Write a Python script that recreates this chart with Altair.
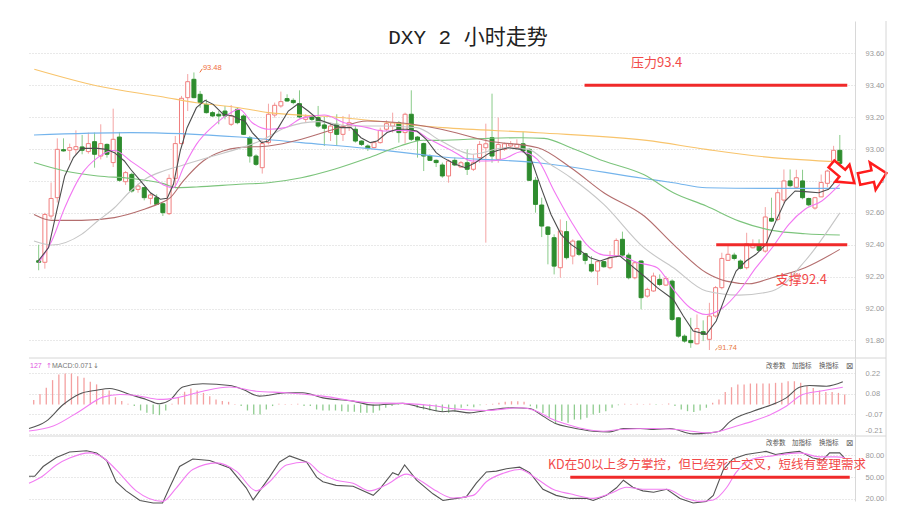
import altair as alt
import pandas as pd

# ---------------- candles (2-hour bars) ----------------
opens = [
92.300, 92.290, 92.580, 92.695, 92.996, 92.992, 92.996, 93.013, 92.984, 93.046,
92.956, 93.029, 92.915, 93.075, 92.795, 92.841, 92.747, 92.758, 92.691, 92.695,
92.657, 92.595, 92.816, 93.034, 93.322, 93.437, 93.343, 93.280, 93.228, 93.218,
93.238, 93.155, 93.249, 93.207, 93.071, 92.956, 92.883, 93.040, 93.213, 93.270,
93.316, 93.305, 93.284, 93.186, 93.201, 93.197, 93.151, 93.103, 93.155, 93.092,
93.144, 93.124, 93.050, 93.019, 93.009, 93.040, 93.124, 93.144, 93.165, 93.103,
93.218, 93.075, 93.034, 92.956, 92.929, 92.900, 92.831, 92.929, 92.887, 92.914,
92.873, 92.946, 93.008, 93.071, 92.935, 92.998, 93.019, 93.008, 93.033, 92.998,
92.804, 92.649, 92.511, 92.444, 92.256, 92.482, 92.329, 92.423, 92.344, 92.277,
92.235, 92.294, 92.256, 92.329, 92.434, 92.335, 92.193, 92.298, 92.078, 92.110,
92.183, 92.147, 92.172, 91.942, 91.827, 91.800, 91.779, 91.855, 91.807, 91.953,
92.131, 92.302, 92.335, 92.298, 92.256, 92.381, 92.396, 92.360, 92.565, 92.559,
92.680, 92.800, 92.760, 92.800, 92.690, 92.630, 92.700, 92.785, 92.870, 92.992]
highs = [
92.400, 92.600, 92.790, 93.067, 93.067, 93.034, 93.117, 93.088, 93.103, 93.103,
93.155, 93.035, 93.253, 93.107, 92.862, 92.852, 92.783, 92.762, 92.726, 92.716,
92.664, 92.841, 93.082, 93.333, 93.470, 93.480, 93.364, 93.312, 93.238, 93.238,
93.270, 93.276, 93.259, 93.218, 93.082, 92.967, 93.050, 93.284, 93.291, 93.360,
93.343, 93.318, 93.368, 93.218, 93.207, 93.270, 93.201, 93.165, 93.218, 93.207,
93.218, 93.144, 93.055, 93.029, 93.050, 93.134, 93.180, 93.228, 93.176, 93.228,
93.368, 93.082, 93.040, 92.967, 92.935, 92.915, 92.935, 92.946, 92.925, 92.998,
92.967, 93.050, 93.159, 93.347, 93.197, 93.040, 93.050, 93.061, 93.109, 93.004,
92.824, 92.695, 92.517, 92.465, 92.559, 92.549, 92.434, 92.427, 92.350, 92.329,
92.302, 92.298, 92.361, 92.440, 92.482, 92.350, 92.298, 92.302, 92.131, 92.225,
92.214, 92.204, 92.183, 91.947, 91.838, 91.942, 91.963, 91.926, 92.036, 92.141,
92.350, 92.402, 92.350, 92.308, 92.475, 92.434, 92.434, 92.636, 92.695, 92.747,
92.872, 92.872, 92.870, 92.870, 92.695, 92.700, 92.840, 92.870, 93.020, 93.088]
lows = [
92.240, 92.250, 92.560, 92.664, 92.984, 92.929, 92.967, 92.967, 92.971, 92.883,
92.935, 92.946, 92.887, 92.795, 92.775, 92.726, 92.726, 92.678, 92.653, 92.649,
92.580, 92.586, 92.758, 93.029, 93.238, 93.318, 93.259, 93.222, 93.201, 93.155,
93.186, 93.144, 93.155, 93.088, 92.915, 92.894, 92.846, 93.029, 93.197, 93.259,
93.297, 93.280, 93.192, 93.165, 93.176, 93.134, 93.019, 93.050, 93.019, 93.050,
93.113, 93.040, 93.019, 92.988, 93.004, 93.034, 93.113, 93.103, 93.040, 93.034,
93.050, 92.946, 92.862, 92.925, 92.887, 92.820, 92.789, 92.893, 92.883, 92.837,
92.862, 92.914, 92.413, 92.914, 92.914, 92.988, 93.008, 92.998, 92.977, 92.799,
92.601, 92.448, 92.277, 92.214, 92.193, 92.308, 92.277, 92.329, 92.277, 92.225,
92.147, 92.256, 92.246, 92.319, 92.323, 92.183, 92.183, 91.995, 92.068, 92.105,
92.141, 92.141, 91.922, 91.817, 91.786, 91.754, 91.775, 91.796, 91.740, 91.942,
92.120, 92.298, 92.302, 92.245, 92.245, 92.377, 92.360, 92.350, 92.544, 92.548,
92.660, 92.760, 92.750, 92.685, 92.640, 92.620, 92.700, 92.760, 92.850, 92.904]
closes = [
92.290, 92.590, 92.690, 92.998, 92.988, 93.009, 93.015, 92.992, 93.034, 92.967,
93.034, 92.967, 93.061, 92.804, 92.852, 92.737, 92.768, 92.695, 92.712, 92.653,
92.601, 92.816, 93.034, 93.318, 93.422, 93.322, 93.291, 93.228, 93.207, 93.207,
93.207, 93.207, 93.165, 93.092, 92.956, 92.904, 93.034, 93.218, 93.274, 93.297,
93.301, 93.291, 93.201, 93.201, 93.186, 93.144, 93.130, 93.144, 93.092, 93.144,
93.165, 93.050, 93.029, 93.004, 93.040, 93.117, 93.159, 93.165, 93.103, 93.218,
93.061, 93.055, 92.956, 92.929, 92.915, 92.831, 92.925, 92.900, 92.914, 92.873,
92.914, 93.029, 93.033, 92.956, 93.029, 93.033, 93.033, 93.029, 92.988, 92.804,
92.653, 92.517, 92.465, 92.266, 92.486, 92.319, 92.423, 92.340, 92.302, 92.235,
92.294, 92.262, 92.319, 92.427, 92.335, 92.193, 92.287, 92.068, 92.120, 92.204,
92.151, 92.189, 91.932, 91.827, 91.796, 91.786, 91.875, 91.838, 91.953, 92.131,
92.314, 92.340, 92.314, 92.252, 92.406, 92.398, 92.365, 92.574, 92.548, 92.726,
92.800, 92.770, 92.820, 92.695, 92.650, 92.695, 92.790, 92.862, 92.992, 92.910]

# ---------------- moving averages (bar index, value) ----------------
orange_i = [-0.7, 9.5, 20.1, 25.4, 32.3, 37, 47.6, 65.1, 80.4, 97.9, 107.5, 118.1, 129]
orange_v = [93.50, 93.395, 93.326, 93.29, 93.259, 93.228, 93.201, 93.134, 93.102, 93.054, 92.998, 92.946, 92.92]
blue_i = [-0.75, 14.8, 32.3, 42.3, 52.9, 65.1, 80.4, 97.5, 102.2, 107.5, 118.1, 129]
blue_v = [93.088, 93.103, 93.075, 93.04, 93.004, 92.95, 92.914, 92.815, 92.789, 92.757, 92.753, 92.753]
green_i = [-0.75, 4.2, 9.5, 14.8, 20.1, 22.3, 25.4, 32.3, 37, 42.3, 47.6, 52.9, 58.2, 61.9, 64.5,
           72.4, 77.7, 81.4, 85.7, 91, 97.5, 102.2, 107.5, 112.8, 118.1, 123.4, 129]
green_v = [92.915, 92.862, 92.831, 92.816, 92.783, 92.758, 92.762, 92.779, 92.789, 92.82, 92.873, 92.942,
           93.019, 93.055, 93.054, 93.067, 93.071, 93.067, 93.008, 92.925, 92.838, 92.726, 92.643, 92.548,
           92.49, 92.469, 92.461]
brown_i = [-0.75, 2.1, 6.9, 12.2, 17, 19.1, 21.2, 23.3, 26.5, 29.7, 32.3, 37, 42.3, 47.6, 52.9, 58.2,
           64.8, 72.4, 80.4, 85.7, 91, 97.5, 102.2, 107.5, 110.7, 114.4, 118.1, 123.4, 129]
brown_v = [92.59, 92.553, 92.553, 92.57, 92.622, 92.653, 92.695, 92.80, 92.925, 92.988, 93.009, 93.019,
           93.061, 93.124, 93.176, 93.165, 93.124, 93.05, 93.008, 92.883, 92.726, 92.58, 92.402, 92.224,
           92.172, 92.155, 92.193, 92.256, 92.371]
gray_i = [-0.75, 2.1, 6.9, 9.5, 12.2, 14.8, 17.5, 20.1, 22.8, 25.4, 28.1, 32.3, 35.9, 39.7, 45, 50.3,
          55.6, 60.9, 64.8, 69.8, 75.1, 78.8, 82, 85.7, 91, 97.5, 102.2, 107.5, 112.8, 118.1, 123.4, 129]
gray_v = [92.423, 92.398, 92.465, 92.549, 92.632, 92.737, 92.82, 92.862, 92.894, 92.925, 92.956, 93.004,
          93.055, 93.134, 93.172, 93.144, 93.144, 93.134, 93.05, 92.967, 93.008, 92.998, 92.914, 92.82,
          92.653, 92.38, 92.256, 92.11, 92.084, 92.11, 92.298, 92.60]
magenta_i = [0, 2.1, 4.2, 6.9, 9.5, 12.2, 14.8, 17.5, 20.1, 21.7, 23.3, 25.4, 28.1, 30.7, 32.3, 34.4, 37,
             39.7, 42.3, 46, 49.2, 52.9, 55.6, 58.2, 60.9, 62.5, 64.5, 67.1, 69.8, 72.4, 75.1, 77.7, 80.3,
             83, 85.7, 88.2, 91, 93.6, 96.3, 99.6, 102.2, 104.9, 107.5, 110.2, 112.8, 115.5, 118.1, 120.8,
             123.4, 126.1, 129]
magenta_v = [92.288, 92.423, 92.632, 92.841, 92.946, 92.992, 92.925, 92.852, 92.775, 92.758, 92.883,
             93.029, 93.144, 93.222, 93.249, 93.165, 93.124, 93.134, 93.192, 93.213, 93.165, 93.134, 93.113,
             93.117, 93.109, 93.07, 93.03, 92.977, 92.925, 92.925, 92.941, 92.983, 92.935, 92.737, 92.549,
             92.402, 92.335, 92.329, 92.29, 92.256, 92.12, 92.005, 91.963, 92.005, 92.11, 92.256, 92.381,
             92.528, 92.622, 92.674, 92.778]
black_i = [0, 1.6, 2.9, 4.2, 5.6, 6.9, 9.5, 10.9, 12.2, 13.8, 14.8, 16.4, 18, 19.6, 20.7, 21.7, 22.8, 23.9,
           25.4, 26.8, 28.1, 29.7, 31.3, 32.3, 33.2, 34.4, 35.9, 37, 38.6, 40.2, 41.8, 43.4, 45, 47.1, 48.7,
           50.3, 51.9, 53.4, 54.5, 56.1, 57.7, 59.3, 60.9, 62.4, 64, 65.1, 67.1, 68.7, 70.3, 72.4, 74, 75.6,
           77.7, 79.3, 80.9, 82.5, 84.1, 85.7, 87.3, 88.8, 90.4, 92, 93.6, 95.2, 97.9, 99.6, 102.2, 103.8,
           105.4, 107.5, 109.1, 110.7, 112.3, 113.9, 115.5, 117.1, 118.7, 120.2, 121.8, 123.4, 125.6, 127.2, 129]
black_v = [92.302, 92.382, 92.611, 92.831, 92.946, 93.004, 93.004, 92.998, 92.977, 92.925, 92.873, 92.80,
           92.726, 92.685, 92.691, 92.779, 92.988, 93.134, 93.259, 93.305, 93.28, 93.218, 93.207, 93.186,
           93.176, 93.103, 93.04, 93.05, 93.134, 93.238, 93.284, 93.238, 93.186, 93.155, 93.134, 93.134,
           93.071, 93.04, 93.05, 93.103, 93.124, 93.124, 93.113, 93.061, 92.977, 92.946, 92.904, 92.883,
           92.914, 92.971, 92.992, 93.008, 92.998, 92.935, 92.758, 92.59, 92.465, 92.402, 92.36, 92.319,
           92.298, 92.319, 92.329, 92.277, 92.19, 92.131, 92.057, 91.953, 91.859, 91.838, 91.922, 92.089,
           92.235, 92.298, 92.34, 92.402, 92.548, 92.674, 92.737, 92.733, 92.726, 92.747, 92.83]

# ---------------- MACD ----------------
macd_hist = [
0.031, 0.075, 0.118, 0.172, 0.212, 0.219, 0.219, 0.200, 0.188, 0.160,
0.142, 0.106, 0.099, 0.052, 0.024, 0.005, -0.011, -0.042, -0.058, -0.066,
-0.075, -0.042, 0.005, 0.047, 0.090, 0.113, 0.099, 0.082, 0.059, 0.036,
0.024, 0.019, 0.003, -0.011, -0.042, -0.070, -0.070, -0.035, -0.011, 0.005,
0.003, 0.003, 0.006, -0.011, -0.011, -0.035, -0.042, -0.042, -0.042, -0.047,
-0.051, -0.051, -0.058, -0.058, -0.058, -0.042, -0.023, -0.011, -0.004, 0.003,
-0.003, -0.023, -0.035, -0.042, -0.047, -0.051, -0.058, -0.047, -0.023, -0.011,
-0.019, -0.005, 0.003, 0.005, 0.012, 0.019, 0.023, 0.023, 0.019, -0.012,
-0.028, -0.059, -0.094, -0.136, -0.117, -0.129, -0.106, -0.106, -0.094, -0.070,
-0.059, -0.047, -0.023, -0.005, 0.005, 0.003, 0.005, 0.003, 0.005, -0.003,
0.002, 0.007, -0.011, -0.035, -0.047, -0.052, -0.042, -0.023, 0.012, 0.035,
0.089, 0.122, 0.141, 0.141, 0.148, 0.148, 0.148, 0.148, 0.153, 0.153,
0.164, 0.164, 0.153, 0.129, 0.117, 0.099, 0.089, 0.089, 0.082, 0.070]
dif_i = [-0.75, 2, 4.7, 7.3, 10, 12.1, 15.3, 17.9, 20, 21.6, 23.7, 26.9, 31.2, 33.3, 35.9, 40.2, 42.8, 46,
         50.8, 54, 58.7, 61.9, 65.1, 66.7, 69.3, 72, 76.2, 78.9, 81, 83.1, 85.3, 89, 91.6, 93.8, 96.5, 98.6,
         101.2, 104.9, 107.5, 109.1, 110.7, 114.4, 117.5, 119.7, 121.8, 123.4, 126.1, 128.7]
dif_v = [-0.169, -0.117, 0.0, 0.075, 0.101, 0.113, 0.071, 0.036, 0.005, 0.029, 0.123, 0.146, 0.134, 0.106,
         0.059, 0.083, 0.083, 0.047, 0.024, -0.004, 0.008, -0.023, -0.051, -0.045, -0.059, -0.042, -0.023,
         -0.028, -0.082, -0.136, -0.16, -0.188, -0.193, -0.169, -0.169, -0.176, -0.169, -0.207, -0.2,
         -0.188, -0.122, -0.047, 0.0, 0.047, 0.122, 0.134, 0.129, 0.16]
dea_i = [-0.75, 3.1, 7.3, 11, 13.7, 16.3, 20, 22.7, 26.9, 31.2, 35.4, 40.2, 46, 53.4, 58.7, 64, 66.7, 72,
         77.3, 80, 82.6, 85.3, 88, 90.6, 93.3, 98.6, 103.8, 107, 109.1, 111.7, 114.4, 117, 119.7, 122.3,
         125, 128.7]
dea_v = [-0.187, -0.152, -0.047, 0.052, 0.071, 0.064, 0.036, 0.047, 0.094, 0.123, 0.094, 0.083, 0.059,
         0.012, 0.008, -0.011, -0.03, -0.042, -0.023, -0.047, -0.106, -0.146, -0.176, -0.188, -0.176,
         -0.169, -0.183, -0.2, -0.188, -0.153, -0.117, -0.075, -0.012, 0.07, 0.094, 0.122]

# ---------------- KD ----------------
k_i = [-0.75, 0.15, 1.5, 3.6, 5.7, 8.4, 10, 11.6, 13.1, 14.7, 16.9, 19, 20.5, 21.6, 23.2, 25.3, 28, 31.2,
       33.8, 34.9, 37.5, 39.1, 40.7, 43.4, 45, 46, 48.1, 50.8, 54, 55, 57.1, 58, 59, 60.9, 63.5, 65.1,
       66.7, 68.8, 70.4, 72, 73.6, 75.2, 77.3, 78.9, 81, 83.1, 85.3, 88, 89, 91.1, 92.7, 93.8, 95.3, 96.9,
       98.6, 100.7, 102.8, 104.9, 107, 108.1, 109.7, 111.2, 113.3, 116.5, 118, 119.7, 121.8, 123.9, 125.5,
       126.6, 128.2, 129]
k_v = [51.2, 51.2, 64.6, 77, 84.6, 86.2, 83.3, 72.9, 43.7, 31.2, 17.9, 14.6, 14.6, 35.4, 64.6, 75, 72.9,
       62.5, 35.4, 18.7, 50, 70.8, 79.2, 70.8, 50, 43.7, 38.7, 37.5, 25, 33.3, 56.2, 52.9, 66.7, 45.8, 27.1,
       17.9, 20.2, 22.9, 41.7, 57.1, 58.3, 61.6, 63.7, 56.2, 33.3, 25, 20.8, 20.8, 17.9, 25, 35.4, 45.8,
       36.2, 31.2, 29.2, 33.3, 20.8, 14.6, 16.7, 25, 60.4, 75, 81.2, 85.4, 81.2, 83.3, 85.4, 76.2, 73.7,
       83.3, 83.3, 76.2]
d_i = [-0.75, 1.5, 3.6, 5.7, 8.9, 11, 13.1, 16.3, 20.5, 22.7, 25.3, 29.1, 32.2, 35.4, 37.5, 40.2, 43.4,
       45.5, 48.1, 50.8, 53.4, 56.1, 59.3, 61.4, 64, 66.7, 69.9, 72, 74.7, 77.3, 80, 82.6, 85.3, 89, 91.6,
       94.3, 96.9, 100.7, 103.8, 106, 108.1, 110.2, 111.7, 114.4, 117.5, 121.8, 125, 127.6, 129]
d_v = [41.7, 52, 66.7, 76.2, 83.3, 77, 60.4, 31.2, 16.7, 35.4, 60.4, 69.6, 58.3, 31.2, 43.7, 66.7, 70.8,
       56.2, 45.8, 41.7, 31.2, 39.6, 54.2, 45.8, 31.2, 21.3, 25, 43.7, 55.4, 60.4, 47.9, 33.3, 27.1, 20.8,
       27.1, 36.2, 33.3, 33.3, 20.8, 16.7, 18.7, 35.4, 56.2, 75, 79.2, 83.3, 77.9, 77.9, 77]

# ---------------- ticks / labels / annotations ----------------
price_ticks = [91.8, 92.0, 92.2, 92.4, 92.6, 92.8, 93.0, 93.2, 93.4, 93.6]
macd_ticks = [0.22, 0.077, -0.067, -0.21]
macd_tick_labels = ["0.22", "0.08", "-0.07", "-0.21"]
kd_ticks = [20, 50, 80]
title_text = "DXY 2 小时走势"
resist_level = 93.4
support_level = 92.4
kd_level = 50
resist_text = "压力93.4"
support_text = "支撑92.4"
kd_text = "KD在50以上多方掌控，但已经死亡交叉，短线有整理需求"
high_label = "93.48"
low_label = "91.74"
tool_labels = ["改参数", "加指标", "换指标"]

# ---------------- styling ----------------
UP_BODY = "#f07e7e"
UP_WICK = "#f4a4a4"
DN_BODY = "#2e8c2e"
DN_WICK = "#8acb8a"
RED = "#f02a2a"
RED_TXT = "#f24a4a"
CJK = "Noto Sans CJK SC"
NUM = "Liberation Sans"

W = 826
H_MAIN, H_MACD, H_KD = 337, 78, 65
XS = alt.Scale(domain=[-0.75, 130.64], nice=False, zero=False)
PS = alt.Scale(domain=[91.690, 93.8025], nice=False, zero=False)
MS = alt.Scale(domain=[-0.222, 0.328], nice=False, zero=False)
KS = alt.Scale(domain=[17.25, 106.5], nice=False, zero=False)

axis_style = dict(orient="right", grid=True, gridDash=[1, 2], gridColor="#d2d2d2", domain=True,
                  domainColor="#d8d8d8", ticks=False, labelColor="#999999", labelFont=NUM,
                  labelFontSize=7.5, labelPadding=10, title=None)
main_axis = alt.Axis(values=price_ticks, format=".2f", **axis_style)
macd_expr = " : ".join(f"abs(datum.value - ({t})) < 0.01 ? '{s}'"
                       for t, s in zip(macd_ticks, macd_tick_labels)) + " : ''"
macd_axis = alt.Axis(values=macd_ticks, labelExpr=macd_expr,
                     labelBaseline={"condition": {"test": "datum.value < -0.2", "value": "bottom"},
                                    "value": "middle"}, **axis_style)
kd_axis = alt.Axis(values=kd_ticks, format=".2f", **axis_style)

dummy = pd.DataFrame({"k": [0]})
bars = list(range(len(opens)))
candles = pd.DataFrame({"i": bars, "o": opens, "h": highs, "l": lows, "c": closes})
up = candles[candles["c"] >= candles["o"]]
dn = candles[candles["c"] < candles["o"]]


def X(field="i"):
    return alt.X(f"{field}:Q", scale=XS, axis=None)


def line(ix, vals, color, scale, axis, width=1.1, interp="monotone"):
    df = pd.DataFrame({"i": ix, "v": vals})
    return alt.Chart(df).mark_line(color=color, strokeWidth=width, interpolate=interp).encode(
        x=X(), y=alt.Y("v:Q", scale=scale, axis=axis))


def dtext(text, xv, yv, scale, axis, size, color, font=CJK, align="center"):
    return alt.Chart(dummy).mark_text(text=text, fontSize=size, color=color, font=font, align=align,
                                      baseline="middle").encode(
        x=alt.X(datum=xv, scale=XS, axis=None), y=alt.Y(datum=yv, scale=scale, axis=axis))


def ptext(text, px, py, size, color, font=CJK, align="left"):
    return alt.Chart(dummy).mark_text(text=text, fontSize=size, color=color, font=font, align=align,
                                      baseline="middle").encode(x=alt.value(px), y=alt.value(py))


def hrule(x1, x2, yv, scale, axis, color, width):
    return alt.Chart(dummy).mark_rule(color=color, strokeWidth=width).encode(
        x=alt.X(datum=x1, scale=XS, axis=None), x2=alt.X2(datum=x2),
        y=alt.Y(datum=yv, scale=scale, axis=axis))


def seg(x1, y1, x2, y2, scale, axis, color):
    return alt.Chart(dummy).mark_rule(color=color, strokeWidth=1).encode(
        x=alt.X(datum=x1, scale=XS, axis=None), x2=alt.X2(datum=x2),
        y=alt.Y(datum=y1, scale=scale, axis=axis), y2=alt.Y2(datum=y2))


def frame(h, top=True):
    layers = [alt.Chart(dummy).mark_rule(color="#d6d6d6", strokeWidth=1).encode(
        x=alt.value(857), y=alt.value(0), y2=alt.value(h))]
    if top:
        layers.append(alt.Chart(dummy).mark_rule(color="#d6d6d6", strokeWidth=1).encode(
            x=alt.value(0), x2=alt.value(857), y=alt.value(0)))
    return layers


def tools(py):
    out = []
    for lab, px in zip(tool_labels, [737, 763, 790]):
        out.append(ptext(lab, px, py, 6.5, "#555555"))
    out.append(ptext("⊠", 820.5, py, 9, "#777777", font="DejaVu Sans", align="center"))
    return out


ARROW_A = "M -1 -0.3 L -0.05 -0.3 L -0.05 -0.74 L 1 0 L -0.05 0.74 L -0.05 0.3 L -1 0.3 Z"
ARROW_B = "M -1 -0.42 L 0 -0.42 L 0 -1 L 1 0 L 0 1 L 0 0.42 L -1 0.42 Z"


def arrow(shape, xv, yv, size, angle):
    return alt.Chart(dummy).mark_point(shape=shape, size=size, filled=True, fill="white", stroke="#ff1c1c",
                                       strokeWidth=2.5, opacity=1, fillOpacity=1, angle=angle).encode(
        x=alt.X(datum=xv, scale=XS, axis=None), y=alt.Y(datum=yv, scale=PS, axis=main_axis))


# ---------------- main panel ----------------
wick_up = alt.Chart(up).mark_rule(color=UP_WICK, strokeWidth=1).encode(
    x=X(), y=alt.Y("l:Q", scale=PS, axis=main_axis), y2="h:Q")
wick_dn = alt.Chart(dn).mark_rule(color=DN_WICK, strokeWidth=1).encode(
    x=X(), y=alt.Y("l:Q", scale=PS, axis=main_axis), y2="h:Q")
body_up = alt.Chart(up).mark_bar(size=4, fill="white", stroke=UP_BODY, strokeWidth=1).encode(
    x=X(), y=alt.Y("o:Q", scale=PS, axis=main_axis), y2="c:Q")
body_dn = alt.Chart(dn).mark_bar(size=4, fill=DN_BODY, stroke=DN_BODY, strokeWidth=1).encode(
    x=X(), y=alt.Y("o:Q", scale=PS, axis=main_axis), y2="c:Q")

A = main_axis
main_layers = [wick_up, wick_dn, body_up, body_dn,
               line(orange_i, orange_v, "#f8c46c", PS, A),
               line(blue_i, blue_v, "#74b4ec", PS, A),
               line(green_i, green_v, "#7cc47c", PS, A),
               line(brown_i, brown_v, "#b46e6e", PS, A),
               line(gray_i, gray_v, "#c6c6c6", PS, A),
               line(magenta_i, magenta_v, "#f277f2", PS, A),
               line(black_i, black_v, "#4d4d4d", PS, A, 1.1, "linear"),
               hrule(87.9, 130.2, resist_level, PS, A, RED, 3),
               hrule(109.1, 130.2, support_level, PS, A, RED, 3),
               dtext(resist_text, 99.5, 93.537, PS, A, 13, RED_TXT),
               dtext(support_text, 122.8, 92.177, PS, A, 13, RED_TXT),
               seg(25.95, 93.48, 26.35, 93.503, PS, A, "#ef6d3a"),
               dtext(high_label, 26.45, 93.506, PS, A, 7.5, "#ef6d3a", font=NUM, align="left"),
               seg(108.95, 91.74, 109.3, 91.752, PS, A, "#e8783c"),
               dtext(low_label, 109.4, 91.754, PS, A, 7.5, "#e8783c", font=NUM, align="left"),
               arrow(ARROW_A, 129.5, 92.846, 900, 40),
               arrow(ARROW_B, 134.3, 92.83, 784, 348),
               ptext(title_text, 439, 17, 21, "#222222", font="Liberation Mono, " + CJK, align="center"),
               ] + frame(H_MAIN, top=False)
main = alt.layer(*main_layers).properties(width=W, height=H_MAIN)

# ---------------- MACD panel ----------------
macd_df = pd.DataFrame({"i": bars, "v": macd_hist})
hist_pos = alt.Chart(macd_df[macd_df["v"] >= 0]).mark_rule(color="#f4a0a0", strokeWidth=1.3).encode(
    x=X(), y=alt.Y("v:Q", scale=MS, axis=macd_axis), y2=alt.Y2(datum=0))
hist_neg = alt.Chart(macd_df[macd_df["v"] < 0]).mark_rule(color="#8fcc8f", strokeWidth=1.3).encode(
    x=X(), y=alt.Y("v:Q", scale=MS, axis=macd_axis), y2=alt.Y2(datum=0))
macd_layers = [hist_pos, hist_neg,
               line(dif_i, dif_v, "#555555", MS, macd_axis, 1.1),
               line(dea_i, dea_v, "#f27cf2", MS, macd_axis, 1.1),
               ptext("127", 1, 8, 7, "#e055e0", font=NUM),
               ptext("↑", 17, 8, 7, "#e055e0", font="DejaVu Sans"),
               ptext("MACD:0.071", 23, 8, 7, "#777777", font=NUM),
               ptext("↓", 64, 8, 7, "#777777", font="DejaVu Sans"),
               ] + tools(8) + frame(H_MACD)
macd = alt.layer(*macd_layers).properties(width=W, height=H_MACD)

# ---------------- KD panel ----------------
kd_layers = [line(k_i, k_v, "#555555", KS, kd_axis, 1.1, "linear"),
             line(d_i, d_v, "#f27cf2", KS, kd_axis, 1.1),
             hrule(85.35, 129.8, kd_level, KS, kd_axis, RED, 3),
             dtext(kd_text, 81.8, 66.7, KS, kd_axis, 12.5, RED_TXT, align="left"),
             ] + tools(6.7) + frame(H_KD)
kd = alt.layer(*kd_layers).properties(width=W, height=H_KD)

chart = alt.vconcat(main, macd, kd, spacing=0, bounds="flush").properties(
    padding={"left": 18, "top": 12, "right": 0, "bottom": 0}
).configure_view(stroke=None)

chart.save("out.html", embed_options={"renderer": "svg", "actions": False})
